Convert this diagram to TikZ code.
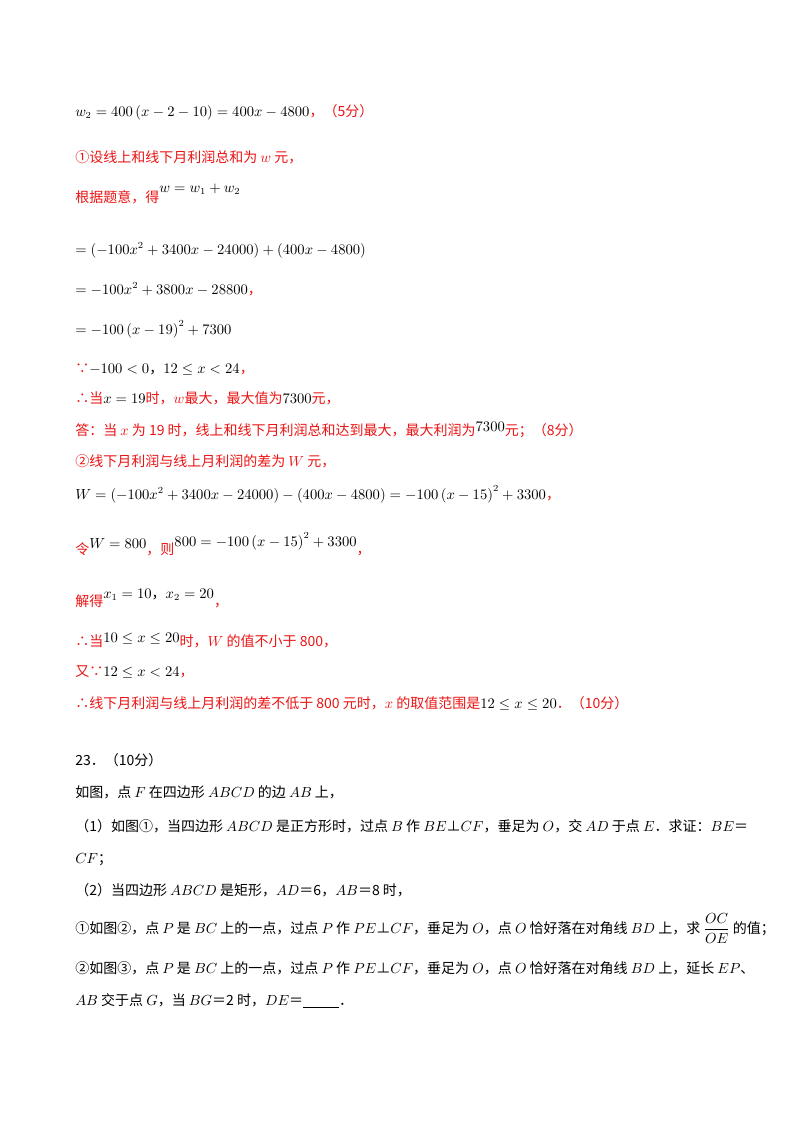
\documentclass[tikz,border=0pt]{standalone}
\usepackage{fontspec}
\setmainfont{Noto Sans CJK SC}
\definecolor{rd}{RGB}{235,20,20}
\newcommand{\R}[1]{\textcolor{rd}{#1}}
\begin{document}
\begin{tikzpicture}[x=0.75pt,y=-0.75pt,
  ln/.style={anchor=base west,inner sep=0pt,font=\fontsize{10.5}{12}\selectfont}]
\useasboundingbox (0,0) rectangle (800,1132);
\fill[white] (0,0) rectangle (800,1132);
\node[ln] (l1) at (75,116) {$w_2=400\left(x-2-10\right)=400x-4800$\R{，（5分）}};
\node[ln] (l2) at (75,162) {\R{①设线上和线下月利润总和为 $w$ 元，}};
\node[ln] (l3) at (75,202) {\R{根据题意，得}\raisebox{7pt}{$w=w_1+w_2$}};
\node[ln] (l4) at (75,254) {$=\left(-100x^2+3400x-24000\right)+\left(400x-4800\right)$};
\node[ln] (l5) at (75,294) {$=-100x^2+3800x-28800$\R{，}};
\node[ln] (l6) at (75,334) {$=-100\left(x-19\right)^2+7300$};
\node[ln] (l7) at (75,373) {\R{∵}$-100<0$，$12\le x<24$\R{，}};
\node[ln] (l8) at (75,403) {\R{∴当}$x=19$\R{时，$w$最大，最大值为}$7300$\R{元，}};
\node[ln] (l9) at (75,435) {\R{答：当 $x$ 为 19 时，线上和线下月利润总和达到最大，最大利润为}\raisebox{3pt}{$7300$}\R{元；（8分）}};
\node[ln] (l10) at (75,466) {\R{②线下月利润与线上月利润的差为 $W$ 元，}};
\node[ln] (l11) at (75,499) {$W=\left(-100x^2+3400x-24000\right)-\left(400x-4800\right)=-100\left(x-15\right)^2+3300$\R{，}};
\node[ln] (l12) at (75,554) {\R{令}\raisebox{4pt}{$W=800$}\R{，则}\raisebox{6pt}{$800=-100\left(x-15\right)^2+3300$}\R{，}};
\node[ln] (l13) at (75,606) {\R{解得}\raisebox{6pt}{$x_1=10$，$x_2=20$}\R{，}};
\node[ln] (l14) at (75,646) {\R{∴当}\raisebox{3pt}{$10\le x\le20$}\R{时，$W$ 的值不小于 800，}};
\node[ln] (l15) at (75,676) {\R{又∵}$12\le x<24$\R{，}};
\node[ln] (l16) at (75,708) {\R{∴线下月利润与线上月利润的差不低于 800 元时，$x$ 的取值范围是}$12\le x\le20$\R{．（10分）}};
\node[ln] (l17) at (75,765) {23．（10分）};
\node[ln] (l18) at (75,797) {如图，点 $F$ 在四边形 $ABCD$ 的边 $AB$ 上，};
\node[ln] (l19) at (75,831) {（1）如图①，当四边形 $ABCD$ 是正方形时，过点 $B$ 作 $BE$⊥$CF$，垂足为 $O$，交 $AD$ 于点 $E$．求证：$BE$＝};
\node[ln] (l20) at (75,863) {$CF$；};
\node[ln] (l21) at (75,895) {（2）当四边形 $ABCD$ 是矩形，$AD$＝6，$AB$＝8 时，};
\node[ln] (l22) at (75,933) {①如图②，点 $P$ 是 $BC$ 上的一点，过点 $P$ 作 $PE$⊥$CF$，垂足为 $O$，点 $O$ 恰好落在对角线 $BD$ 上，求 $\displaystyle\frac{OC}{OE}$ 的值；};
\node[ln] (l23) at (75,973) {②如图③，点 $P$ 是 $BC$ 上的一点，过点 $P$ 作 $PE$⊥$CF$，垂足为 $O$，点 $O$ 恰好落在对角线 $BD$ 上，延长 $EP$、};
\node[ln] (l24) at (75,1005) {$AB$ 交于点 $G$，当 $BG$＝2 时，$DE$＝\underline{\hspace{27pt}}．};
\end{tikzpicture}
\end{document}
